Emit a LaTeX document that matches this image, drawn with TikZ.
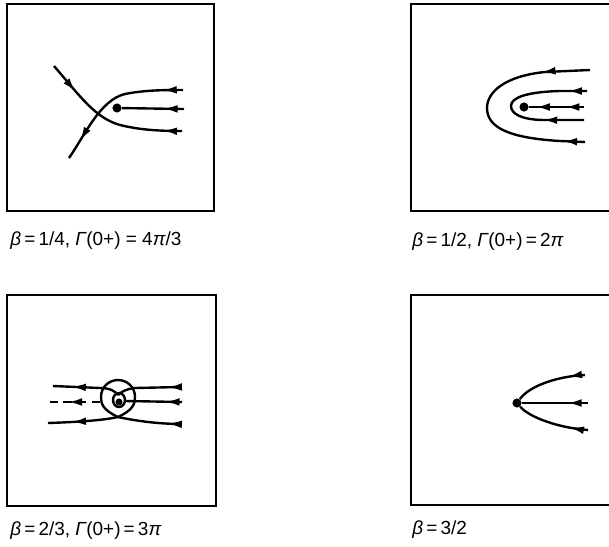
\documentclass[tikz,border=0pt]{standalone}
\usepackage{fontspec}
\setmainfont{Liberation Sans}
\usetikzlibrary{arrows.meta, decorations.markings}
\tikzset{
  traj/.style={line width=1.7pt},
  fwd/.style={postaction={decorate, decoration={markings,
      mark=at position #1 with {\arrow{Latex[length=10pt,width=5.5pt]}}}}},
  bwd/.style={postaction={decorate, decoration={markings,
      mark=at position #1 with {\arrowreversed{Latex[length=10pt,width=5.5pt]}}}}},
  panel/.style={line width=1pt},
  fixpt/.style={circle, fill, inner sep=0pt, minimum size=6.5pt},
  lab/.style={anchor=west, inner sep=0pt, font=\fontsize{13.5}{16}\selectfont}
}
\newcommand{\gk}[1]{{\itshape #1}}

\begin{document}
\begin{tikzpicture}[x=0.025cm, y=-0.025cm]
  \clip (0,0) rectangle (609,546);
  \foreach \xa/\ya/\xb/\yb in {7/4/214/211, 411/4/618/211, 7/295/216/506, 411/295/618/505}
    \draw[panel] (\xa,\ya) rectangle (\xb,\yb);

  % beta = 1/4
  \node[fixpt] (s1) at (117,108) {};
  \draw[traj, fwd=0.125, bwd=0.78] (182,131) .. controls (160,131) and (140,130) .. (120,125)
    .. controls (95,118) and (80,96) .. (54,66);
  \draw[traj, fwd=0.14, fwd=0.86] (183,90) .. controls (165,90) and (145,90) .. (125,94)
    .. controls (100,100) and (85,135) .. (69,158);
  \draw[traj, fwd=0.33] (184,109) -- (s1);
  \node[lab] (l1) at (10,241) {\gk{β}\,=\,1/4, \gk{Γ}(0+) = 4\gk{π}/3};

  % beta = 1/2
  \node[fixpt] (s2) at (524,107) {};
  \draw[traj, fwd=0.21, bwd=0.905] (590,70) -- (545,72) .. controls (505,76) and (487,92) .. (487,108)
    .. controls (487,128) and (510,138) .. (560,141) -- (585,142);
  \draw[traj, fwd=0.12, bwd=0.745] (587,91) -- (560,91) .. controls (525,92) and (511,98) .. (511,106)
    .. controls (511,114) and (522,120) .. (545,120) -- (584,120);
  \draw[traj, fwd=0.34, fwd=0.875] (584,107) -- (s2);
  \node[lab] (l2) at (412,242) {\gk{β}\,=\,1/2, \gk{Γ}(0+)\,=\,2\gk{π}};

  % beta = 2/3
  \node[fixpt, minimum size=5pt] (s3) at (119,402) {};
  \draw[traj] (118,417) .. controls (103,410) and (101,404) .. (101,397)
    .. controls (101,386) and (110,380) .. (118,380)
    .. controls (126,380) and (135,386) .. (135,397)
    .. controls (135,404) and (133,410) .. (118,417);
  \draw[traj] (119,400) ellipse [x radius=6, y radius=7];
  \draw[traj, fwd=0.72] (118,395) .. controls (115,391) and (110,388) .. (100,388) -- (53,386);
  \draw[traj, fwd=0.19] (180,387) -- (135,388) .. controls (126,389) and (121,392) .. (118,395);
  \draw[traj, dash pattern=on 6pt off 4pt, fwd=0.64] (100,402) -- (50,402);
  \draw[traj, fwd=0.29] (182,402) -- (125,401);
  \draw[traj, fwd=0.66] (118,417) .. controls (105,420) and (80,422) .. (48,423);
  \draw[traj, fwd=0.22] (182,424) .. controls (155,424) and (132,420) .. (118,417);
  \node[lab] (l3) at (10,531) {\gk{β}\,=\,2/3, \gk{Γ}(0+)\,=\,3\gk{π}};

  % beta = 3/2
  \node[fixpt] (s4) at (517,403) {};
  \draw[traj, fwd=0.24] (585,375) .. controls (560,376) and (530,385) .. (s4);
  \draw[traj, fwd=0.31] (588,403) -- (s4);
  \draw[traj, fwd=0.25] (588,430) .. controls (560,428) and (530,418) .. (s4);
  \node[lab] (l4) at (412,530) {\gk{β}\,=\,3/2};
\end{tikzpicture}
\end{document}
